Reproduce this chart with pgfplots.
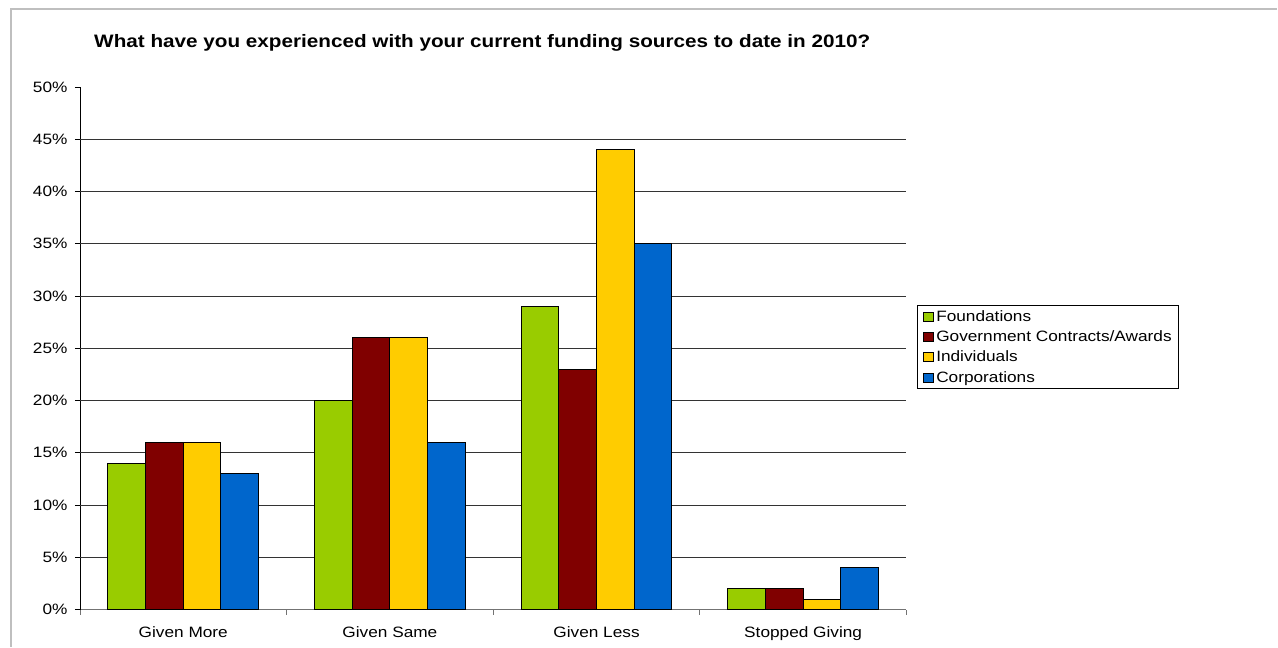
\documentclass[border=0pt]{standalone}
\usepackage{pgfplots}
\pgfplotsset{compat=1.18}
\usepackage{fontspec}
\setmainfont{Liberation Sans}[FakeStretch=1.15]
\definecolor{cgreen}{HTML}{99CC00}
\definecolor{cred}{HTML}{800000}
\definecolor{cyellow}{HTML}{FFCC00}
\definecolor{cblue}{HTML}{0066CC}
\begin{document}
\begin{tikzpicture}[x=1pt,y=1pt]
\path (0pt,0pt) rectangle (1278pt,647pt);
\draw[black!25, line width=1.5pt] (11pt,0pt) -- (11pt,638pt) -- (1278pt,638pt);
\node[font=\fontsize{18}{21}\selectfont\bfseries] at (482.5pt,604pt) {What have you experienced with your current funding sources to date in 2010?};
\begin{axis}[
  at={(80pt,37pt)}, anchor=south west,
  scale only axis, width=827pt, height=523pt,
  xmin=-0.5, xmax=3.5, ymin=0, ymax=50,
  ybar=0pt, bar width=37.7pt,
  axis x line*=bottom, axis y line*=left,
  x axis line style={draw=black!55, line width=1pt},
  y axis line style={draw=black, line width=0.8pt},
  tick align=outside, major tick length=5pt, minor tick length=5pt,
  xtick={0,1,2,3},
  xticklabels={Given More,Given Same,Given Less,Stopped Giving},
  minor xtick={-0.5,0.5,1.5,2.5,3.5},
  major x tick style={draw=none},
  minor x tick style={draw=black!55, line width=0.8pt},
  ytick={0,5,...,50},
  yticklabels={0\%,5\%,10\%,15\%,20\%,25\%,30\%,35\%,40\%,45\%,50\%},
  y tick style={draw=black, line width=0.8pt},
  extra y ticks={5,10,...,45},
  extra y tick labels={},
  extra y tick style={grid=major, major tick length=0pt},
  major grid style={draw=black!80, line width=0.8pt},
  ticklabel style={font=\fontsize{15}{17}\selectfont},
  xticklabel style={yshift=-8pt},
  yticklabel style={xshift=-4pt},
  every axis plot/.append style={draw=black, line width=0.9pt},
  legend image code/.code={\draw[#1,draw=black,line width=0.9pt] (0pt,-4.5pt) rectangle (10.5pt,4.5pt);},
  legend style={at={(1.0133,0.583)}, anchor=north west, draw=black, line width=0.8pt,
    font=\fontsize{15}{17}\selectfont, row sep=4pt, inner xsep=5pt, inner ysep=3pt,
    /tikz/every even column/.append style={column sep=0pt}},
  legend cell align=left,
]
\addplot[fill=cgreen] coordinates {(0,14) (1,20) (2,29) (3,2)};
\addplot[fill=cred] coordinates {(0,16) (1,26) (2,23) (3,2)};
\addplot[fill=cyellow] coordinates {(0,16) (1,26) (2,44) (3,1)};
\addplot[fill=cblue] coordinates {(0,13) (1,16) (2,35) (3,4)};
\legend{Foundations,Government Contracts/Awards,Individuals,Corporations}
\end{axis}
\end{tikzpicture}
\end{document}
